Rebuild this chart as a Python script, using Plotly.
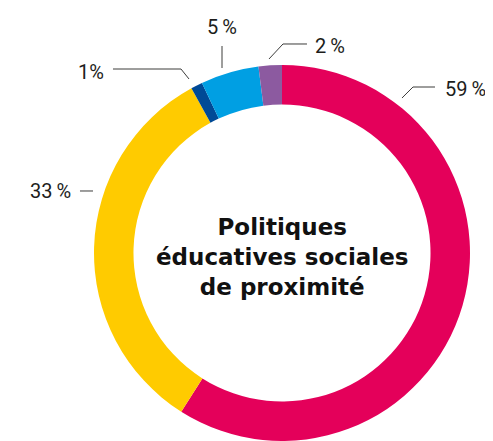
import plotly.graph_objects as go

categories = ["A", "B", "C", "D", "E"]
values = [59, 33, 1, 5, 2]
labels = ["59\u2009%", "33\u2009%", "1%", "5\u2009%", "2\u2009%"]
colors = ["#E4005A", "#FFCB00", "#004A96", "#009FE3", "#8C5AA0"]
center_text = "Politiques<br>éducatives sociales<br>de proximité"

OFF = 8  # page body margin
W, H = 485, 433

def px(x, y):
    return (x - OFF) / W, 1 - (y - OFF) / H

dx0, dy1 = px(282 - 188, 65)
dx1, _ = px(282 + 188, 65)
fig = go.Figure(go.Pie(
    labels=categories, values=values, sort=False, direction="clockwise",
    rotation=0, hole=0.79, marker=dict(colors=colors, line=dict(width=0)),
    textinfo="none", hoverinfo="skip", showlegend=False,
    domain=dict(x=[dx0, dx1], y=[0, dy1]),
))

# label positions (pixels): x, y, xanchor
label_pos = [(443, 89, "left"), (73, 191, "right"), (106, 72, "right"),
             (222, 27, "center"), (313, 46, "left")]
annotations = []
for txt, (x, y, xa) in zip(labels, label_pos):
    ax, ay = px(x, y)
    annotations.append(dict(x=ax, y=ay, xref="paper", yref="paper", text=txt,
                            showarrow=False, xanchor=xa, yanchor="middle",
                            font=dict(family="Roboto, sans-serif", size=20, color="#1d1d1b")))
cx, cy = px(282, 257)
annotations.append(dict(x=cx, y=cy, xref="paper", yref="paper", text=center_text,
                        showarrow=False, xanchor="center", yanchor="middle",
                        font=dict(family="DejaVu Sans", size=23, color="#111111", weight="bold")))

leaders = [
    [(402, 98), (413, 87), (435, 87)],
    [(80, 191), (93, 191)],
    [(189, 79), (181, 69), (113, 69)],
    [(222, 46), (222, 68)],
    [(269, 59), (283, 44), (307, 44)],
]
shapes = []
for pts in leaders:
    path = "M " + " L ".join(f"{px(x, y)[0]:.5f},{px(x, y)[1]:.5f}" for x, y in pts)
    shapes.append(dict(type="path", path=path, xref="paper", yref="paper",
                       line=dict(color="#3c3c3b", width=1)))

fig.update_layout(width=W, height=H, margin=dict(l=0, r=0, t=0, b=0),
                  paper_bgcolor="white", plot_bgcolor="white",
                  annotations=annotations, shapes=shapes)
fig.write_html("out.html")
